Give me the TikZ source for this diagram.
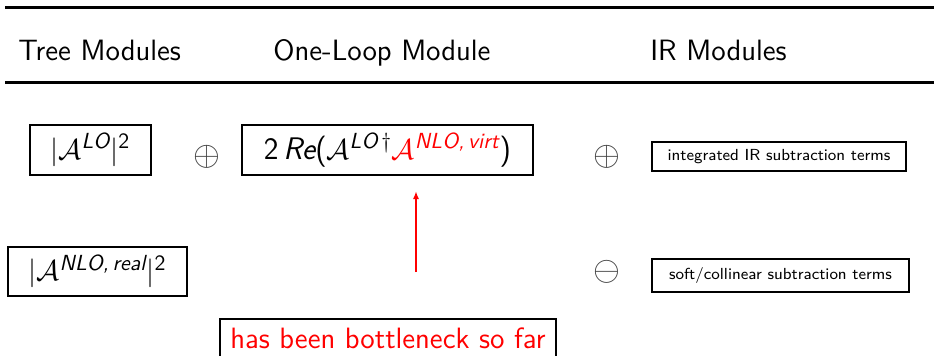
\documentclass[tikz,border=0pt]{standalone}
\usepackage{amsmath}
\usepackage{fontspec}
\renewcommand{\familydefault}{\sfdefault}
\usetikzlibrary{arrows.meta}
\newcommand{\sit}[1]{\textsf{\itshape #1}}
\newcommand{\srm}[1]{\textsf{\upshape #1}}
\begin{document}
\begin{tikzpicture}[x=0.5pt,y=-0.5pt,
  big/.style={font=\fontsize{14.7}{17}\selectfont},
  formula/.style={font=\fontsize{15.6}{18}\selectfont},
  small/.style={font=\fontsize{8}{10}\selectfont},
  box/.style={draw=black, line width=1pt, inner sep=0pt, align=center},
  op/.style={font=\fontsize{16}{18}\selectfont, inner sep=0pt, text=black!75},
  rule/.style={line width=1.5pt}]
\useasboundingbox (0,0) rectangle (934,355);
\clip (0,0) rectangle (934,355);

% horizontal rules of the table header
\coordinate (rtl) at (5,7);   \coordinate (rtr) at (934,7);
\coordinate (rbl) at (5,82);  \coordinate (rbr) at (934,82);
\draw[rule] (rtl) -- (rtr);
\draw[rule] (rbl) -- (rbr);

% column titles
\node[big, anchor=base west, inner sep=0pt] (htree) at (18,60) {Tree Modules};
\node[big, anchor=base west, inner sep=0pt] (hloop) at (273,60) {One-Loop Module};
\node[big, anchor=base west, inner sep=0pt] (hir)   at (650,60) {IR Modules};

% first row
\node[box, formula, minimum width=60.5pt, minimum height=25pt] (lo) at (90.5,150)
  {$|\mathcal{A}^{\sit{LO}}|^{\srm{2}}$};
\node[op] (plus1) at (207,157) {$\oplus$};
\node[box, formula, minimum width=145.5pt, minimum height=25pt] (virt) at (387.5,150)
  {$\srm{2}\,\sit{Re}\srm{(}\mathcal{A}^{\sit{LO}\,\dagger}\textcolor{red}{\mathcal{A}^{\sit{NLO,\,virt}}}\srm{)}$};
\node[op] (plus2) at (607,157) {$\oplus$};
\node[box, small, minimum width=127pt, minimum height=14.5pt] (intir) at (779,156.5)
  {integrated IR subtraction terms};

% second row
\node[box, formula, minimum width=89.5pt, minimum height=24.5pt] (real) at (97.5,271.5)
  {$|\mathcal{A}^{\sit{NLO,\,real}}|^{\srm{2}}$};
\node[op] (minus) at (607,272) {$\ominus$};
\node[box, small, minimum width=128.5pt, minimum height=16.5pt] (softcol) at (780.5,275.5)
  {soft/collinear subtraction terms};

% remark and arrow
\node[box, big, text=red, minimum width=168pt, text height=14.5pt, text depth=12pt,
  anchor=north] (note) at (388,318)
  {has been bottleneck so far};
\coordinate (atail) at (416,272);
\draw[red, line width=1pt, -{Latex[length=4pt,width=3pt]}, shorten >=7.5pt]
  (atail) -- (atail |- virt.south);
\end{tikzpicture}
\end{document}
